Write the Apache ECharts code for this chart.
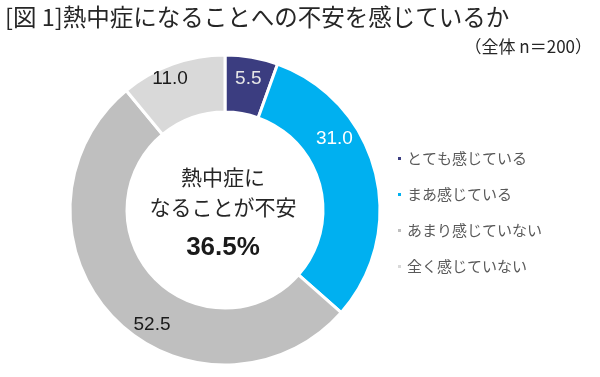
<!DOCTYPE html>
<html>
<head>
<meta charset="utf-8">
<script src="https://cdn.jsdelivr.net/npm/echarts@6/dist/echarts.min.js"></script>
<style>
  html, body { margin: 0; padding: 0; background: #fff; }
  #chart { width: 600px; height: 377px; }
</style>
</head>
<body>
<div id="chart"></div>
<script>
const categories = ['とても感じている', 'まあ感じている', 'あまり感じていない', '全く感じていない'];
const values = [5.5, 31.0, 52.5, 11.0];
const colors = ['#3b3d80', '#00b0f0', '#bfbfbf', '#d9d9d9'];
const labelColors = ['#e6e6e6', '#ffffff', '#1a1a1a', '#1a1a1a'];
// nudges so labels sit where the original has them
const labelOffsets = [[1, -4], [-16, -39], [20, 25], [-11, -9]];

const cjk = '"Noto Sans CJK JP", sans-serif';
const latin = '"Liberation Sans", Arial, sans-serif';

const chart = echarts.init(document.getElementById('chart'));
const option = {
  animation: false,
  color: colors,
  graphic: [
    {
      type: 'text', left: 5, top: 5,
      style: { text: '[図 1]熱中症になることへの不安を感じているか', font: '23.5px ' + cjk, fill: '#262626' }
    },
    {
      type: 'text', right: 8, top: 38,
      style: { text: '（全体 n＝200）', font: '17px ' + cjk, fill: '#262626' }
    },
    {
      type: 'text', x: 223, y: 177,
      style: { text: '熱中症に', font: '21px ' + cjk, fill: '#262626', align: 'center', verticalAlign: 'middle' }
    },
    {
      type: 'text', x: 223, y: 207,
      style: { text: 'なることが不安', font: '21px ' + cjk, fill: '#262626', align: 'center', verticalAlign: 'middle' }
    },
    {
      type: 'text', x: 223, y: 248,
      style: { text: (values[0] + values[1]).toFixed(1) + '%', font: 'bold 26px ' + latin, fill: '#1a1a1a', align: 'center', verticalAlign: 'middle' }
    }
  ],
  legend: {
    orient: 'vertical',
    left: 391,
    top: 145,
    icon: 'rect',
    itemWidth: 5,
    itemHeight: 5,
    itemGap: 19,
    data: categories,
    textStyle: { fontFamily: cjk, fontSize: 15, color: '#595959', lineHeight: 17 }
  },
  series: [
    {
      type: 'pie',
      center: [225, 210],
      radius: [98, 155],
      startAngle: 90,
      clockwise: true,
      avoidLabelOverlap: false,
      itemStyle: { borderColor: '#fff', borderWidth: 3 },
      label: {
        show: true,
        position: 'inside',
        fontFamily: latin,
        fontSize: 19,
        formatter: p => p.value.toFixed(1)
      },
      labelLine: { show: false },
      emphasis: { disabled: true },
      data: categories.map((name, i) => ({
        name: name,
        value: values[i],
        label: { color: labelColors[i], offset: labelOffsets[i] }
      }))
    }
  ]
};
chart.setOption(option);
</script>
</body>
</html>
